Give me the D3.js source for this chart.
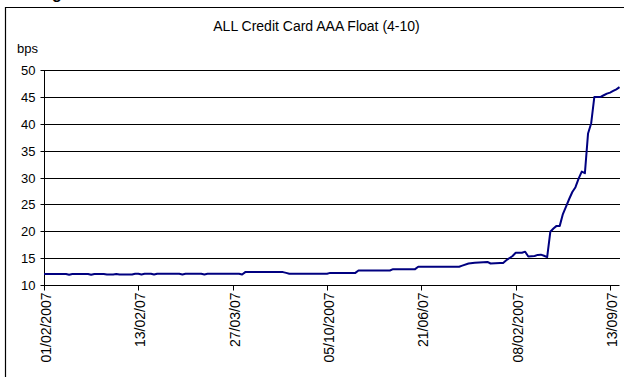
<!DOCTYPE html>
<html>
<head>
<meta charset="utf-8">
<script src="https://cdn.jsdelivr.net/npm/d3@7"></script>
<style>
  html, body { margin: 0; padding: 0; background: #fff; }
  svg { display: block; font-family: "Liberation Sans", Arial, sans-serif; }
</style>
</head>
<body>
<svg id="chart" width="624" height="377"></svg>
<script>
// Trading-day number since 2 Jan 2007 and the spread (bps) on that day.
const dayIndex = [
  0, 7, 8, 9, 14, 15, 16, 19, 20, 22, 23, 24, 28, 29, 30, 31, 32, 34, 35, 36,
  43, 44, 45, 50, 51, 52, 62, 63, 64, 76, 77, 78, 90, 91, 99, 100, 110, 111, 118, 119,
  132, 133, 135, 137, 141, 142, 145, 146, 147, 149, 150, 152, 153, 154, 156, 157, 158, 159, 160, 161,
  162, 163, 164, 165, 166, 167, 168, 169, 170, 171, 172, 173, 174, 175, 177, 178, 179, 180, 181, 182, 183
];
const spread = [
  12.05, 12.05, 11.9, 12.05, 12.05, 11.9, 12.05, 12.05, 11.95, 11.95, 12.05, 11.95, 11.95, 12.1, 12.1, 11.95, 12.1, 12.1, 11.95, 12.1,
  12.1, 11.95, 12.1, 12.1, 11.95, 12.1, 12.1, 11.95, 12.4, 12.4, 12.25, 12.1, 12.1, 12.25, 12.25, 12.7, 12.7, 12.95, 12.95, 13.4,
  13.4, 13.6, 14.0, 14.15, 14.3, 14.0, 14.1, 14.1, 14.6, 15.4, 16.0, 16.0, 16.2, 15.3, 15.4, 15.6, 15.65, 15.45, 15.2, 19.9,
  20.5, 21.0, 21.0, 23.2, 24.6, 26.0, 27.3, 28.2, 29.8, 31.1, 30.8, 38.2, 40.1, 45.0, 45.0, 45.3, 45.6, 45.8, 46.1, 46.4, 46.8
];

const lastDay = 183;
const tickDays = [0, 30, 60, 90, 120, 150, 180];
const tickLabels = ["01/02/2007", "13/02/07", "27/03/07", "05/10/2007", "21/06/07", "08/02/2007", "13/09/07"];
const yTicks = [10, 15, 20, 25, 30, 35, 40, 45, 50];

const chartTitle = "ALL Credit Card AAA Float (4-10)";
const yUnit = "bps";

const svg = d3.select("#chart");
const plot = { left: 44, right: 619.5, top: 70, bottom: 285 };

const x = d3.scaleLinear().domain([0, lastDay]).range([plot.left, plot.right]);
const y = d3.scaleLinear().domain([10, 50]).range([plot.bottom, plot.top]);

// Frame of the embedded chart object (runs off the right and bottom edges)
svg.append("path")
  .attr("d", "M5.5,377 V7.5 H624")
  .attr("fill", "none")
  .attr("stroke", "#000")
  .attr("stroke-width", 1.2);

// Tail of a heading that sits above the chart
svg.append("text")
  .attr("x", 52)
  .attr("y", -1)
  .attr("font-size", 16)
  .attr("font-weight", "bold")
  .attr("fill", "#000")
  .text("g");

// Title
svg.append("text")
  .attr("x", 316.5)
  .attr("y", 31)
  .attr("text-anchor", "middle")
  .attr("font-size", 14)
  .attr("fill", "#000")
  .text(chartTitle);

// Unit label
svg.append("text")
  .attr("x", 17)
  .attr("y", 53)
  .attr("font-size", 13)
  .attr("fill", "#000")
  .text(yUnit);

// Horizontal gridlines
svg.append("g")
  .selectAll("line")
  .data(yTicks.filter(v => v > 10))
  .join("line")
  .attr("x1", plot.left)
  .attr("x2", plot.right)
  .attr("y1", d => Math.round(y(d)) + 0.5)
  .attr("y2", d => Math.round(y(d)) + 0.5)
  .attr("stroke", "#000")
  .attr("stroke-width", 1)
  .attr("shape-rendering", "crispEdges");

// Y axis
const yAxis = d3.axisLeft(y)
  .tickValues(yTicks)
  .tickSize(4)
  .tickPadding(5)
  .tickFormat(d3.format("d"));
const gy = svg.append("g")
  .attr("transform", `translate(${plot.left + 0.5},0)`)
  .call(yAxis);
gy.select(".domain").attr("stroke", "#000").attr("d", `M0,${plot.top}V${plot.bottom}`);
gy.selectAll(".tick line").attr("stroke", "#000");
gy.selectAll(".tick text")
  .attr("font-size", 13)
  .attr("font-family", "Liberation Sans, Arial, sans-serif")
  .attr("fill", "#000");
gy.selectAll(".tick").attr("transform", d => `translate(0,${Math.round(y(d)) + 0.5})`);

// X axis
const xAxis = d3.axisBottom(x)
  .tickValues(tickDays)
  .tickSize(5)
  .tickFormat((d, i) => tickLabels[i]);
const gx = svg.append("g")
  .attr("transform", `translate(0,${plot.bottom + 0.5})`)
  .call(xAxis);
gx.select(".domain").attr("stroke", "#000").attr("d", `M${plot.left},0H${plot.right}`);
gx.selectAll(".tick line").attr("stroke", "#000");
gx.selectAll(".tick").attr("transform", d => `translate(${Math.round(x(d)) + 0.5},0)`);
gx.selectAll(".tick text")
  .attr("font-size", 14)
  .attr("font-family", "Liberation Sans, Arial, sans-serif")
  .attr("fill", "#000")
  .attr("text-anchor", "end")
  .attr("transform", "rotate(-90)")
  .attr("x", -7)
  .attr("y", 2)
  .attr("dy", "0.35em");

// Spread line
const series = dayIndex.map((d, i) => ({ day: d, value: spread[i] }));
svg.append("path")
  .datum(series)
  .attr("fill", "none")
  .attr("stroke", "#000080")
  .attr("stroke-width", 2)
  .attr("stroke-linejoin", "round")
  .attr("d", d3.line().x(d => x(d.day)).y(d => y(d.value)));
</script>
</body>
</html>
